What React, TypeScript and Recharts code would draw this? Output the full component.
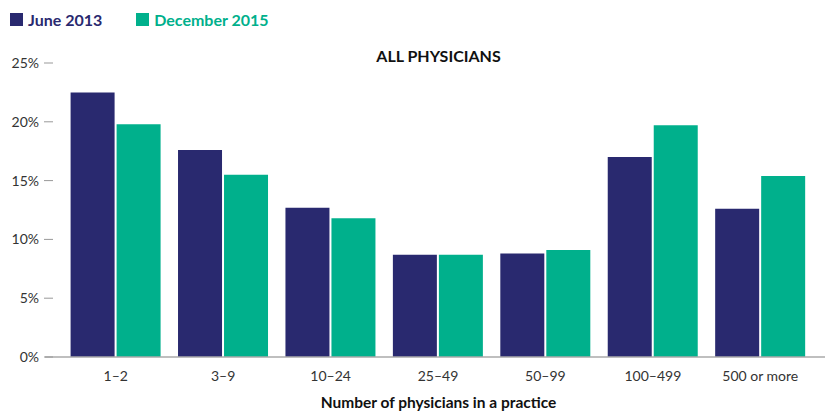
import { BarChart, Bar, XAxis, YAxis } from "recharts"

const categories = ["1–2", "3–9", "10–24", "25–49", "50–99", "100–499", "500 or more"]
const june2013 = [22.5, 17.6, 12.7, 8.7, 8.8, 17.0, 12.6]
const december2015 = [19.8, 15.5, 11.8, 8.7, 9.1, 19.7, 15.4]
const yTicks = [0, 5, 10, 15, 20, 25]

const NAVY = "#29296f"
const TEAL = "#00b08c"
const FONT = "Lato, 'Open Sans', sans-serif"

const data = categories.map((name, i) => ({
  name,
  june: june2013[i],
  dec: december2015[i],
}))

function YTick(props: any) {
  const { x, y, payload } = props
  return (
    <g>
      <text x={x - 6} y={y} dy={5} textAnchor="end" fontSize={14} fill="#333" fontFamily={FONT}>
        {payload.value}%
      </text>
      <line x1={x - 1} x2={x + 8} y1={y} y2={y} stroke="#999" strokeWidth={1} />
    </g>
  )
}

export default function App() {
  return (
    <div style={{ position: "absolute", left: 0, top: 0, width: 825, height: 413, background: "#fff", fontFamily: FONT }}>
      <div style={{ position: "absolute", left: 10, top: 10, display: "flex", alignItems: "center", fontSize: 16, fontWeight: 700 }}>
        <span style={{ width: 13, height: 13, background: NAVY, display: "inline-block", marginRight: 5 }} />
        <span style={{ color: NAVY }}>June 2013</span>
        <span style={{ width: 13, height: 13, background: TEAL, display: "inline-block", marginLeft: 34, marginRight: 5 }} />
        <span style={{ color: TEAL }}>December 2015</span>
      </div>
      <div style={{ position: "absolute", left: 0, width: 877, top: 46, textAlign: "center", fontSize: 16, fontWeight: 700, color: "#111" }}>
        ALL PHYSICIANS
      </div>
      <div style={{ position: "absolute", left: 0, width: 877, top: 393, textAlign: "center", fontSize: 15.5, fontWeight: 700, color: "#111" }}>
        Number of physicians in a practice
      </div>
      <BarChart
        width={825}
        height={413}
        data={data}
        margin={{ top: 63, right: 0, bottom: 0, left: 0 }}
        barCategoryGap="8%"
        barGap={2}
      >
        <XAxis
          dataKey="name"
          axisLine={{ stroke: "#aaa", strokeWidth: 1.5 }}
          tickLine={false}
          tick={{ fontSize: 14, fill: "#333", fontFamily: FONT }}
          tickMargin={8}
          padding={{ left: 17, right: 11 }}
          interval={0}
          height={56}
        />
        <YAxis
          domain={[0, 25]}
          ticks={yTicks}
          width={45}
          axisLine={false}
          tickLine={false}
          tickSize={0}
          tickMargin={0}
          tick={<YTick />}
        />
        <Bar dataKey="june" fill={NAVY} isAnimationActive={false} />
        <Bar dataKey="dec" fill={TEAL} isAnimationActive={false} />
      </BarChart>
    </div>
  )
}
